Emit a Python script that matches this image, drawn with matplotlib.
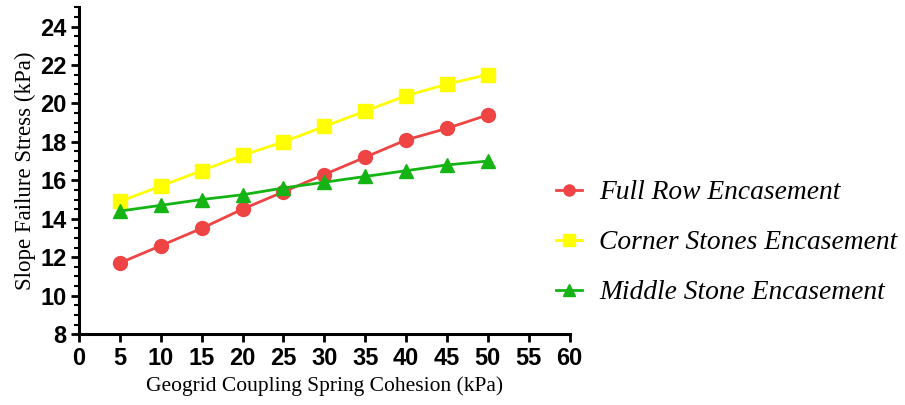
import matplotlib as mpl
mpl.use('Agg')
import matplotlib.pyplot as plt
from matplotlib.ticker import MultipleLocator

# Data
cohesion = [5, 10, 15, 20, 25, 30, 35, 40, 45, 50]
full_row = [11.7, 12.6, 13.5, 14.5, 15.4, 16.3, 17.2, 18.1, 18.7, 19.4]
corner_stones = [14.9, 15.7, 16.5, 17.3, 18.0, 18.8, 19.6, 20.4, 21.0, 21.5]
middle_stone = [14.4, 14.7, 15.0, 15.25, 15.6, 15.9, 16.2, 16.5, 16.8, 17.0]
series_names = ['Full Row Encasement', 'Corner Stones Encasement', 'Middle Stone Encasement']

fig = plt.figure(figsize=(9.05, 4.05), dpi=100, facecolor='white')
ax = fig.add_axes([0.0873, 0.175, 0.542, 0.807])

ax.plot(cohesion, full_row, color='#EE4444', marker='o', markersize=10, linewidth=2, label=series_names[0], zorder=3)
ax.plot(cohesion, corner_stones, color='#FFFF00', marker='s', markersize=10, linewidth=2, label=series_names[1], zorder=3)
ax.plot(cohesion, middle_stone, color='#14B414', marker='^', markersize=10, linewidth=2, label=series_names[2], zorder=3)

ax.set_xlim(0, 60)
ax.set_ylim(8, 25)
ax.set_xticks(range(0, 61, 5))
ax.set_yticks(range(8, 25, 2))
ax.yaxis.set_minor_locator(MultipleLocator(0.5))

for s in ['top', 'right']:
    ax.spines[s].set_visible(False)
for s in ['left', 'bottom']:
    ax.spines[s].set_linewidth(2.2)

ax.tick_params(axis='both', which='major', width=2, length=6, labelsize=17, pad=3)
ax.tick_params(axis='y', which='minor', width=1.5, length=3.5)
for lab in ax.get_xticklabels() + ax.get_yticklabels():
    lab.set_fontfamily('Liberation Sans')
    lab.set_fontweight('bold')

ax.set_xlabel('Geogrid Coupling Spring Cohesion (kPa)', fontsize=15.5, family='Liberation Serif', labelpad=5)
ax.set_ylabel('Slope Failure Stress (kPa)', fontsize=16.5, family='Liberation Serif', labelpad=3)

ax.legend(loc='center left', bbox_to_anchor=(0.973, 0.28), frameon=False, borderaxespad=0, borderpad=0,
          handlelength=0.95, handletextpad=0.6, labelspacing=0.9,
          prop={'family': 'Liberation Serif', 'style': 'italic', 'size': 19.8},
          markerscale=0.8)

plt.savefig('out.png', dpi=100)
plt.close()
